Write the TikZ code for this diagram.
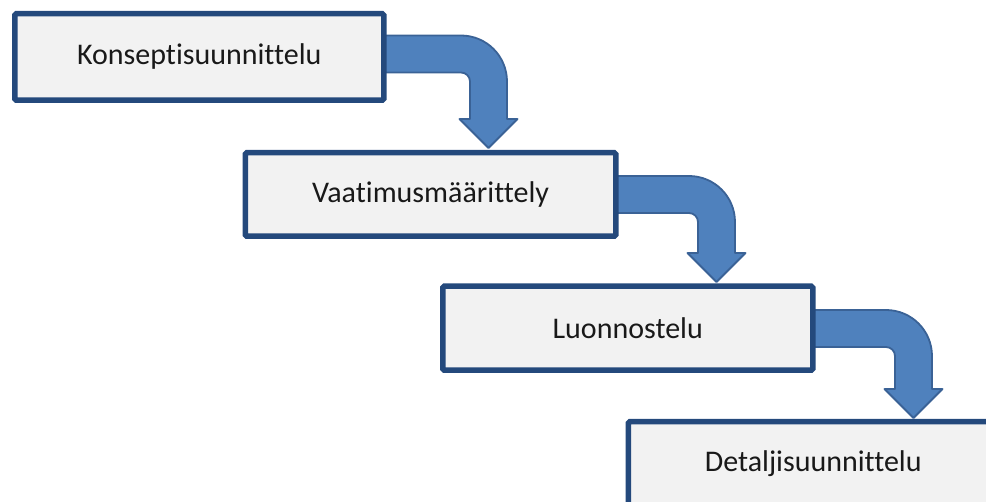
\documentclass[tikz,border=0pt]{standalone}
\usepackage{fontspec}
\setmainfont{Carlito}[Ligatures=NoCommon]
\definecolor{boxline}{HTML}{24497C}
\definecolor{boxfill}{HTML}{F2F2F2}
\definecolor{arrowfill}{HTML}{4F81BD}
\definecolor{arrowline}{HTML}{3A6296}
\tikzset{
  phasebox/.style={draw=boxline, line width=5.5pt, fill=boxfill, rounded corners=1.5pt},
  phasetext/.style={font=\fontsize{30}{36}\selectfont, text=black!90},
  bentarrow/.style={draw=arrowline, line width=1.8pt, fill=arrowfill, line join=round},
}
% bent arrow: #1 start x, #2 shaft centre y, #3 down-shaft centre x, #4 tip y
\newcommand{\bentarrow}[4]{%
  \pgfmathsetmacro{\hw}{18.5}%
  \pgfmathsetmacro{\ro}{46}%
  \pgfmathsetmacro{\ri}{9}%
  \pgfmathsetmacro{\hh}{29}%
  \pgfmathsetmacro{\hb}{#4-29}%
  \draw[bentarrow]
    (#1,{-(#2-\hw)}) -- ({#3+\hw-\ro},{-(#2-\hw)})
    arc[start angle=90, end angle=0, radius=\ro]
    -- ({#3+\hw},{-\hb}) -- ({#3+\hh},{-\hb}) -- (#3,{-#4})
    -- ({#3-\hh},{-\hb}) -- ({#3-\hw},{-\hb})
    -- ({#3-\hw},{-(#2+\hw+\ri)})
    arc[start angle=0, end angle=90, radius=\ri]
    -- (#1,{-(#2+\hw)}) -- cycle;}
\begin{document}
\begin{tikzpicture}[x=1pt,y=1pt]
\useasboundingbox (0,0) rectangle (986,-502);
\clip (0,0) rectangle (986,-502);
% connectors between the phases
\bentarrow{381}{54}{488.5}{148}
\bentarrow{613}{194.5}{716.5}{282}
\bentarrow{810}{328.5}{913.5}{418}
% phase boxes
\node[phasebox, minimum width=369pt, minimum height=86.5pt, anchor=north west] (konsepti) at (12,-11) {};
\node[phasetext] at (konsepti.center) {Konseptisuunnittelu};
\node[phasebox, minimum width=370.5pt, minimum height=83.5pt, anchor=north west] (vaatimus) at (242.5,-150) {};
\node[phasetext] at (vaatimus.center) {Vaatimusmäärittely};
\node[phasebox, minimum width=370pt, minimum height=84pt, anchor=north west] (luonnos) at (440,-283.5) {};
\node[phasetext] at (luonnos.center) {Luonnostelu};
\node[phasebox, minimum width=370pt, minimum height=84pt, anchor=north west] (detalji) at (625.5,-419) {};
\node[phasetext] at (detalji.center) {Detaljisuunnittelu};
\end{tikzpicture}
\end{document}
